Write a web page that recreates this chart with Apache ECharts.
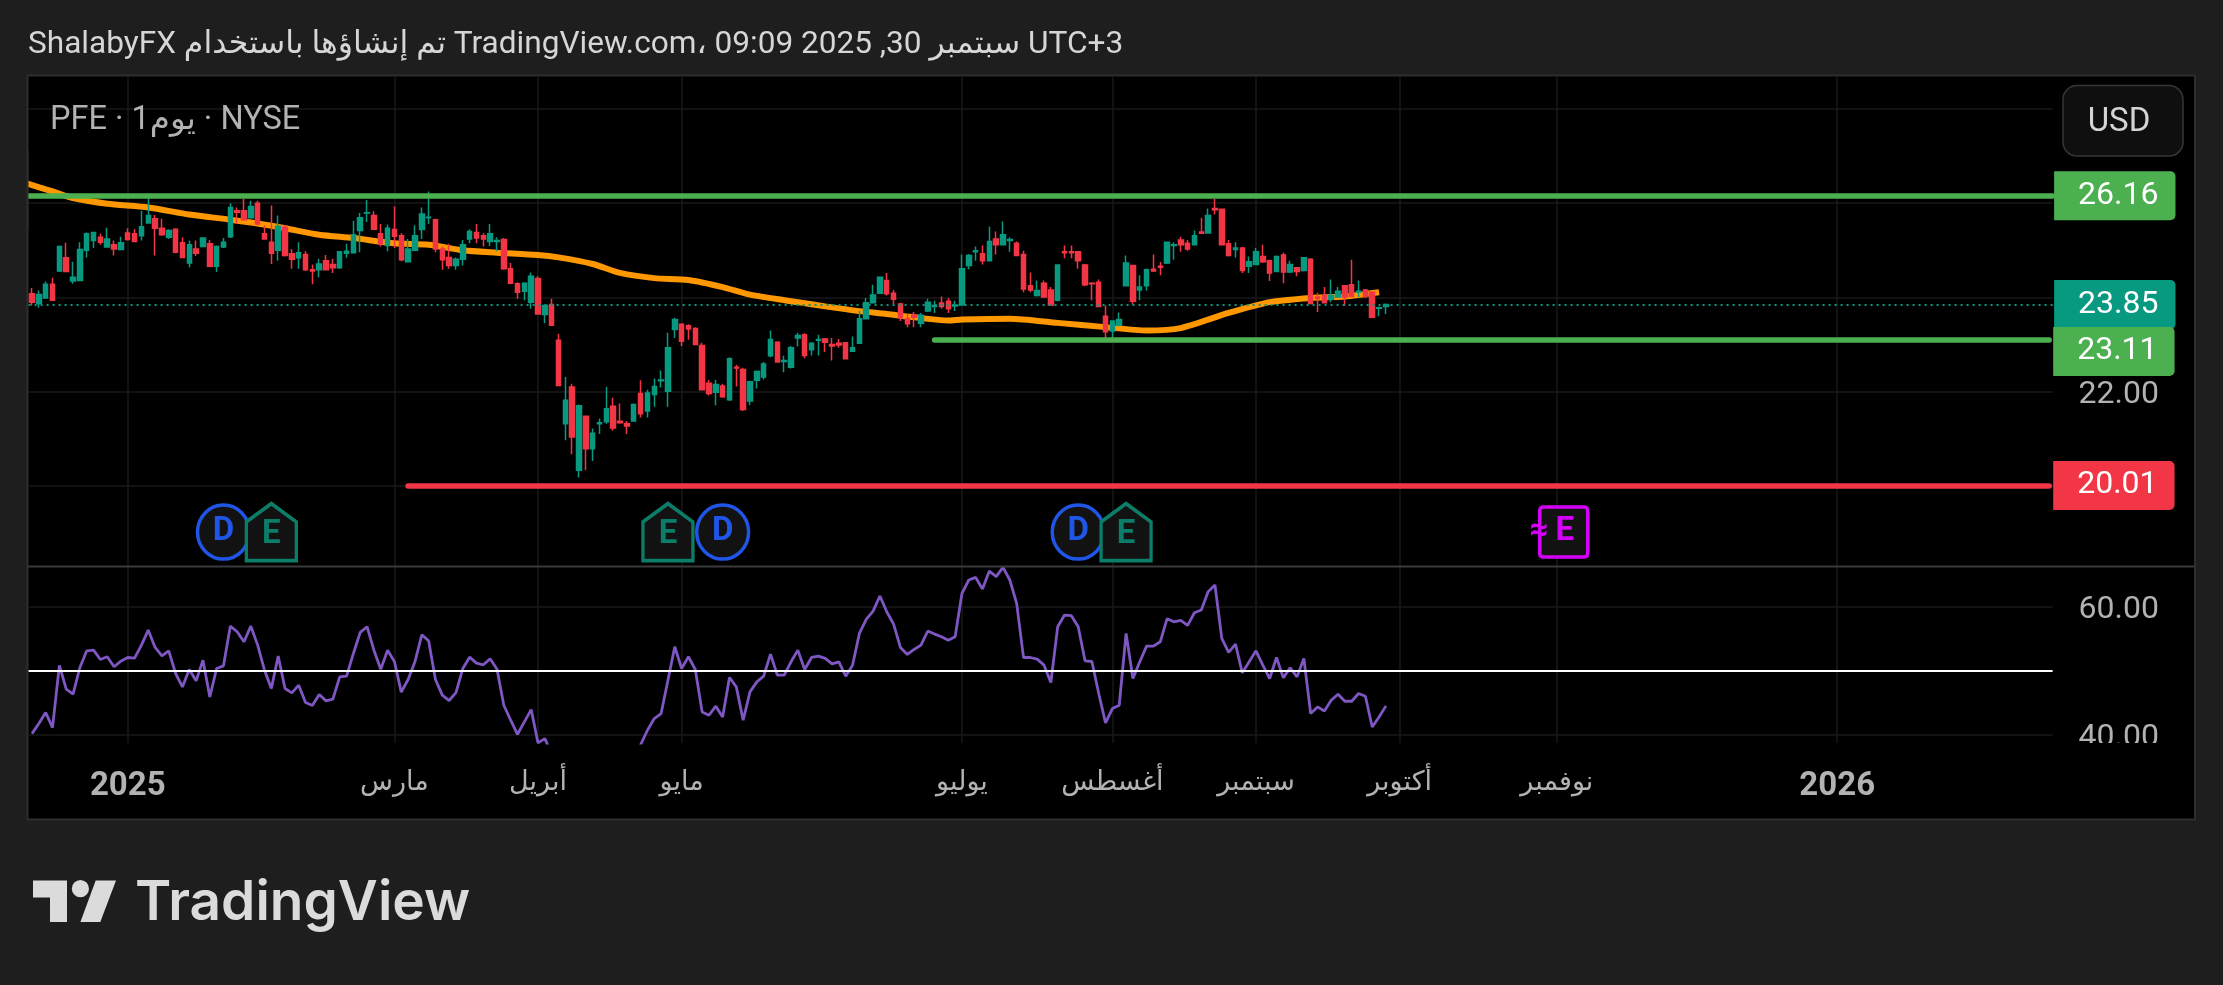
<!DOCTYPE html>
<html>
<head>
<meta charset="utf-8">
<title>PFE</title>
<style>
  html,body{margin:0;padding:0;background:#1e1e1e;}
  #main{width:2223px;height:985px;}
</style>
</head>
<body>
<div id="main"></div>
<script src="https://cdn.jsdelivr.net/npm/echarts@6/dist/echarts.min.js"></script>
<script>
// open, close, low, high of each daily bar
var ohlc = [
[24.08,23.90,23.83,24.20],[23.87,24.06,23.78,24.15],[23.99,24.28,23.97,24.34],[24.28,23.94,23.94,24.42],
[24.56,25.08,24.54,25.10],[24.84,24.55,24.54,25.16],[24.35,24.43,24.29,24.76],[24.36,25.02,24.36,25.17],
[25.00,25.35,24.85,25.38],[25.21,25.38,25.05,25.39],[25.28,25.17,25.12,25.35],[25.07,25.24,25.07,25.48],
[25.12,25.03,24.89,25.21],[25.02,25.16,25.02,25.29],[25.37,25.23,25.21,25.47],[25.35,25.19,25.17,25.45],
[25.31,25.50,25.21,25.84],[25.58,25.74,25.58,26.16],[25.67,25.47,24.89,25.75],[25.47,25.33,25.31,25.67],
[25.28,25.42,25.24,25.45],[25.45,24.96,24.94,25.47],[25.16,24.85,24.85,25.28],[24.73,25.12,24.64,25.21],
[25.03,24.94,24.88,25.21],[25.08,25.26,25.07,25.28],[25.14,24.66,24.64,25.22],[24.66,25.08,24.54,25.10],
[25.07,25.17,25.05,25.26],[25.29,25.91,25.26,26.00],[25.84,25.81,25.56,25.91],[25.84,25.65,25.63,26.09],
[25.69,25.93,25.67,26.05],[26.00,25.56,25.53,26.05],[25.35,25.24,25.23,25.53],[25.17,24.94,24.71,25.95],
[25.00,25.51,24.78,25.74],[25.49,24.89,24.87,25.53],[24.93,24.81,24.61,25.03],[24.84,24.95,24.61,25.17],
[24.91,24.59,24.56,24.98],[24.59,24.56,24.28,24.70],[24.59,24.71,24.43,24.82],[24.78,24.59,24.57,24.90],
[24.70,24.63,24.52,24.82],[24.63,24.97,24.61,24.98],[24.94,24.98,24.84,25.14],[24.95,25.33,24.94,25.63],
[25.42,25.69,24.96,25.79],[25.79,25.80,25.60,26.07],[25.74,25.45,25.43,25.83],[25.35,25.14,25.08,25.56],
[25.10,25.47,24.98,25.55],[25.44,25.30,25.05,25.93],[25.31,24.80,24.77,25.36],[24.76,25.03,24.75,25.24],
[25.00,25.31,24.98,25.53],[25.44,25.77,25.24,25.91],[25.69,25.70,25.56,26.25],[25.65,25.03,24.96,25.67],
[25.03,24.80,24.59,25.08],[24.85,24.68,24.61,25.14],[24.68,24.81,24.59,24.85],[24.81,25.12,24.68,25.22],
[25.24,25.40,25.15,25.45],[25.38,25.26,25.15,25.56],[25.31,25.24,25.08,25.36],[25.19,25.35,25.09,25.56],
[25.19,25.21,24.98,25.28],[25.23,24.61,24.59,25.26],[24.61,24.30,24.28,24.73],[24.29,24.11,23.97,24.32],
[24.13,24.30,23.94,24.32],[23.90,24.45,23.76,24.53],[24.40,23.65,23.64,24.45],[23.64,23.83,23.45,23.85],
[23.85,23.41,23.41,23.97],[23.09,22.13,22.13,23.23],[21.32,21.82,20.97,22.31],[22.10,21.04,20.67,22.17],
[20.33,21.70,20.18,21.73],[21.48,20.79,20.33,21.48],[20.79,21.12,20.53,21.22],[21.32,21.34,21.10,21.43],
[21.36,21.64,21.32,22.10],[21.69,21.23,21.17,21.87],[21.37,21.34,21.32,21.75],[21.32,21.27,21.10,21.38],
[21.38,21.73,21.36,21.75],[21.96,21.53,21.45,22.24],[21.59,21.97,21.45,22.04],[21.94,22.11,21.68,22.28],
[22.23,22.25,22.09,22.45],[22.01,22.93,21.68,23.25],[23.32,23.53,23.14,23.57],[23.43,23.07,22.97,23.45],
[23.40,23.33,23.10,23.43],[23.34,23.00,23.00,23.37],[22.98,22.04,22.03,23.04],[22.18,21.96,21.92,22.25],
[21.99,22.15,21.71,22.25],[22.12,21.89,21.87,22.17],[21.83,22.70,21.80,22.73],[22.52,22.50,22.11,22.57],
[22.47,21.62,21.59,22.51],[21.80,22.21,21.71,22.23],[22.24,22.43,22.07,22.45],[22.31,22.59,22.26,22.63],
[22.76,23.11,22.73,23.30],[23.05,22.63,22.63,23.07],[22.64,22.66,22.41,22.76],[22.52,22.93,22.49,22.97],
[23.14,23.19,22.96,23.25],[23.21,22.77,22.71,23.24],[22.89,23.03,22.77,23.05],[23.09,23.11,22.77,23.21],
[23.12,23.05,22.84,23.14],[23.00,22.97,22.66,23.14],[23.03,22.99,22.93,23.12],[23.04,22.70,22.69,23.05],
[22.86,22.93,22.86,23.17],[23.03,23.55,23.02,23.72],[23.55,23.89,23.53,23.99],[23.89,24.05,23.88,24.27],
[24.09,24.43,24.08,24.44],[24.36,24.08,24.04,24.52],[24.09,23.96,23.86,24.16],[23.86,23.57,23.50,23.89],
[23.55,23.44,23.37,23.65],[23.62,23.58,23.37,23.69],[23.45,23.62,23.37,23.67],[23.71,23.90,23.69,23.97],
[23.81,23.83,23.67,23.93],[23.88,23.81,23.76,24.02],[23.92,23.76,23.67,23.99],[23.82,23.84,23.71,23.93],
[23.84,24.61,23.83,24.91],[24.68,24.89,24.60,24.92],[24.97,24.99,24.78,25.08],[24.93,24.78,24.70,25.10],
[24.78,25.19,24.78,25.50],[25.24,25.12,24.91,25.40],[25.12,25.33,25.10,25.61],[25.21,25.23,24.97,25.28],
[25.15,24.89,24.89,25.19],[24.91,24.18,24.11,24.99],[24.25,24.16,24.11,24.53],[24.04,24.15,24.02,24.36],
[24.30,24.01,23.99,24.36],[24.16,23.84,23.83,24.22],[23.94,24.69,23.92,24.70],[24.97,24.95,24.83,25.10],
[24.97,24.95,24.83,25.10],[24.97,24.78,24.61,24.97],[24.69,24.27,24.24,24.71],[24.30,24.29,23.94,24.32],
[24.32,23.81,23.80,24.38],[23.60,23.27,23.14,23.83],[23.29,23.50,23.12,23.51],[23.41,23.53,23.39,23.68],
[24.25,24.73,24.24,24.89],[24.68,23.92,23.85,24.69],[24.16,24.22,23.94,24.47],[24.25,24.59,24.15,24.61],
[24.60,24.56,24.54,24.91],[24.66,24.64,24.47,24.75],[24.73,25.17,24.71,25.19],[25.10,25.12,24.80,25.17],
[25.22,25.12,24.97,25.29],[25.15,25.03,24.99,25.22],[25.12,25.31,25.11,25.42],[25.39,25.36,25.35,25.69],
[25.37,25.74,25.36,25.89],[25.89,25.86,25.76,26.09],[25.87,25.12,25.11,25.89],[25.14,24.89,24.87,25.22],
[25.02,25.05,24.85,25.17],[25.05,24.57,24.52,25.07],[24.66,24.76,24.52,24.87],[24.70,24.97,24.70,25.05],
[24.87,24.76,24.73,25.12],[24.78,24.52,24.35,24.80],[24.55,24.87,24.54,24.89],[24.90,24.54,24.30,24.95],
[24.54,24.70,24.52,24.78],[24.63,24.55,24.45,24.64],[24.57,24.84,24.55,24.85],[24.81,23.87,23.85,24.83],
[24.01,23.98,23.69,24.10],[24.04,23.89,23.87,24.22],[23.96,24.04,23.90,24.38],[24.01,24.13,23.99,24.22],
[24.25,24.01,23.82,24.25],[24.27,24.02,24.01,24.80],[24.11,24.13,24.01,24.36],[24.16,24.02,23.99,24.18],
[24.11,23.58,23.58,24.13],[23.77,23.78,23.60,23.81],[23.81,23.85,23.65,23.87]
];

// slow moving average: bar index, price, read at the line's bends
var maIndex = [-1,3,6,11,17,23,29,33,37,42,47,53,58,63,68,74,77,82,86,91,96,101,105,112,116,121,125,129,134,136,143,150,157,163,168,175,181,187,192,197];
var maValues = [26.43,26.25,26.11,25.99,25.91,25.76,25.65,25.57,25.47,25.33,25.26,25.15,25.12,25.00,24.95,24.90,24.85,24.71,24.52,24.41,24.37,24.22,24.06,23.90,23.81,23.71,23.65,23.58,23.51,23.53,23.55,23.46,23.37,23.30,23.35,23.67,23.90,23.99,24.02,24.11];

// RSI, one value a bar (bars 76-88 run below the pane and are estimates)
var rsi = [
40.15,41.73,43.45,41.10,50.84,47.12,46.33,50.52,53.14,53.24,51.78,52.20,50.63,51.52,52.09,51.99,54.03,56.39,53.66,52.35,
53.14,49.58,47.48,50.21,48.43,51.67,45.91,50.36,50.78,57.01,56.12,54.55,57.01,54.03,50.10,47.22,52.30,47.22,46.54,47.75,
45.02,44.55,46.28,45.29,45.55,49.05,49.16,52.72,56.02,56.91,53.24,50.26,53.24,51.46,46.65,48.64,51.41,55.65,54.71,48.64,
46.18,45.34,46.59,50.36,52.14,51.20,50.94,51.88,50.26,44.60,42.25,40.05,41.99,43.92,38.69,39.37,37.00,30.50,30.00,28.50,
27.00,26.50,28.00,29.00,30.00,30.00,31.00,31.00,34.00,38.40,40.68,42.51,43.30,48.53,53.77,50.36,52.20,50.21,43.56,43.03,
44.45,42.77,48.95,47.48,42.25,46.70,48.27,49.16,52.62,49.32,49.32,51.41,53.24,50.21,52.09,52.30,51.94,51.10,51.41,49.16,
50.89,55.86,58.06,59.37,61.73,59.26,57.33,53.66,52.56,53.35,54.03,56.23,55.76,55.34,54.81,55.34,62.14,64.24,64.66,62.82,
65.65,64.76,66.23,64.24,60.57,52.09,52.09,51.83,50.89,48.17,56.91,58.74,58.64,56.91,51.57,51.46,46.44,41.83,44.08,44.60,
55.86,48.79,51.41,53.87,53.87,54.55,58.17,57.69,57.90,57.12,59.11,59.53,62.41,63.45,55.08,52.88,54.19,49.68,51.41,53.14,
50.89,48.79,52.09,48.90,50.47,49.05,51.94,43.30,44.34,43.71,45.39,46.33,45.23,45.23,46.44,46.02,41.20,42.77,44.50
];

var resistance = 26.16, support = 23.11, floorLevel = 20.01, lastPrice = 23.85;
var supportFrom = 132, floorFrom = 55;

// time axis
var tickDates = ['2025-01-02','2025-03-03','2025-04-01','2025-05-01','2025-07-01','2025-08-01','2025-09-02','2025-10-01','2025-11-03','2026-01-02'];
var tickLabels = ['2025','مارس','أبريل','مايو','يوليو','أغسطس','سبتمبر','أكتوبر','نوفمبر','2026'];
var holidays = ['2024-12-25','2025-01-01','2025-01-09','2025-01-20','2025-02-17','2025-04-18','2025-05-26','2025-06-19','2025-07-04','2025-09-01','2025-11-27','2025-12-25','2026-01-01'];
var firstDay = '2024-12-11', slots = 296;

// price axis levels
var priceTicks = [20,22,24,26,28];
var priceLabels = [22];
var rsiTicks = [40,60];
var rsiMiddle = 50;

// chart events, as bar indexes
var eventPrice = 19.02;
var dividendBars = [28,101,153];
var earningsBars = [35,93,160];
var nextEarningsBars = [224];

var dates = [];
(function(){
  var d = new Date(firstDay + 'T00:00:00Z');
  while (dates.length < slots) {
    var s = d.toISOString().slice(0,10), w = d.getUTCDay();
    if (w != 0 && w != 6 && holidays.indexOf(s) < 0) dates.push(s);
    d.setUTCDate(d.getUTCDate() + 1);
  }
})();

function isTick(i, val){ return tickDates.indexOf(val) >= 0; }
function pairs(xs, y){ return xs.map(function(x){ return [x, y]; }); }
function pick(xs, ys){ return xs.map(function(x, i){ return [x, ys[i]]; }); }

var FONT = 'Roboto, "DejaVu Sans", sans-serif';
var GREEN = '#089981', RED = '#f23645', LEVEL = '#4caf50', GRID = '#191919', MUTED = '#b2b2b2';

function tag(price, bg, gap, dy){
  return {
    show:true, position:'end', distance:gap, offset:[0, dy || 0],
    formatter:price.toFixed(2),
    color:'#fff', backgroundColor:bg, fontFamily:FONT, fontSize:32, lineHeight:32,
    padding:[10,17,7,24], borderRadius:[0,5,5,0]
  };
}
function levelStyle(color){ return {color:color, width:5.5, type:'solid', cap:'round'}; }

var priceLabelStyle = {margin:26, color:MUTED, fontSize:32, fontFamily:FONT, verticalAlign:'top', lineHeight:6,
  formatter:function(v){ return v.toFixed(2); }};

var chart = echarts.init(document.getElementById('main'));
chart.setOption({
  animation:false,
  backgroundColor:'#1e1e1e',
  textStyle:{fontFamily:FONT},
  grid:[
    {left:28.6, width:2024, top:76, height:490},
    {left:28.6, width:2024, top:567, height:176}
  ],
  xAxis:[
    {type:'category', gridIndex:0, data:dates, boundaryGap:true,
     axisLine:{show:false}, axisTick:{show:false}, axisLabel:{show:false},
     splitLine:{show:true, alignWithLabel:true, interval:isTick, lineStyle:{color:GRID, width:1.5}}},
    {type:'category', gridIndex:1, data:dates, boundaryGap:true,
     axisLine:{show:false}, axisTick:{show:false},
     splitLine:{show:true, alignWithLabel:true, interval:isTick, lineStyle:{color:GRID, width:1.5}},
     axisLabel:{show:true, interval:isTick, margin:27, color:MUTED, fontSize:27, fontFamily:FONT, hideOverlap:false,
       formatter:function(val){
         var t = tickLabels[tickDates.indexOf(val)];
         return /^\d+$/.test(t) ? '{y|' + t + '}' : t;
       },
       rich:{y:{fontWeight:'bold', fontSize:33, color:MUTED, fontFamily:FONT}}}}
  ],
  yAxis:[
    {type:'value', gridIndex:0, position:'right', min:18.3, max:28.7, scale:true,
     axisLine:{show:false},
     axisTick:{show:false, customValues:priceTicks},
     splitLine:{show:true, lineStyle:{color:GRID, width:1.5}},
     axisLabel:Object.assign({customValues:priceLabels}, priceLabelStyle)},
    {type:'value', gridIndex:1, position:'right', min:38.68, max:66.28, scale:true,
     axisLine:{show:false},
     axisTick:{show:false, customValues:rsiTicks},
     splitLine:{show:true, lineStyle:{color:GRID, width:1.5}},
     axisLabel:Object.assign({customValues:rsiTicks}, priceLabelStyle)}
  ],
  series:[
    {name:'MA', type:'line', xAxisIndex:0, yAxisIndex:0, z:2, data:pick(maIndex, maValues),
     showSymbol:false, smooth:0.25, lineStyle:{color:'#ff9800', width:6}, silent:true},
    {name:'PFE', type:'candlestick', xAxisIndex:0, yAxisIndex:0, z:3, data:ohlc, barWidth:5,
     itemStyle:{color:GREEN, color0:RED, borderColor:GREEN, borderColor0:RED, borderWidth:1.5},
     markLine:{silent:true, symbol:'none', animation:false, data:[
       {yAxis:lastPrice, lineStyle:{color:GREEN, type:[2,4], width:2}, label:tag(lastPrice, GREEN, 1.5)},
       {yAxis:resistance, lineStyle:levelStyle(LEVEL), label:tag(resistance, LEVEL, 1.5)},
       [{coord:[supportFrom, support], lineStyle:levelStyle(LEVEL), label:tag(support, LEVEL, 4, 12)}, {coord:[slots-1, support]}],
       [{coord:[floorFrom, floorLevel], lineStyle:levelStyle(RED), label:tag(floorLevel, RED, 4)}, {coord:[slots-1, floorLevel]}]
     ]}},
    {name:'Dividends', type:'scatter', xAxisIndex:0, yAxisIndex:0, z:4, data:pairs(dividendBars, eventPrice),
     symbol:'circle', symbolSize:[52,54],
     itemStyle:{color:'#121212', borderColor:'#2056e8', borderWidth:3.5, opacity:1},
     label:{show:true, position:'inside', formatter:'D', color:'#2056e8', fontSize:33, fontWeight:'bold', fontFamily:FONT}},
    {name:'Earnings', type:'scatter', xAxisIndex:0, yAxisIndex:0, z:5, data:pairs(earningsBars, eventPrice),
     symbol:'path://M0 9 L12 0 L24 9 L24 28 L0 28 Z', symbolSize:[50,57], symbolKeepAspect:false,
     itemStyle:{color:'#121212', borderColor:'#0b7d69', borderWidth:3.5, opacity:1},
     label:{show:true, position:'inside', formatter:'E', color:'#0b7d69', fontSize:33, fontWeight:'bold', fontFamily:FONT, offset:[0,3]}},
    {name:'Next earnings', type:'scatter', xAxisIndex:0, yAxisIndex:0, z:5, data:pairs(nextEarningsBars, eventPrice),
     symbol:'path://M2 0 H22 Q24 0 24 2 V22 Q24 24 22 24 H2 Q0 24 0 22 V2 Q0 0 2 0 Z', symbolSize:[48,50], symbolKeepAspect:false,
     itemStyle:{color:'#121212', borderColor:'#d500f9', borderWidth:3.5, opacity:1},
     label:{show:true, position:'inside', formatter:'{a|≈}{e|E}', offset:[-12,0],
       rich:{a:{color:'#d500f9', fontSize:33, fontWeight:'bold', fontFamily:FONT, padding:[0,7,0,0]},
             e:{color:'#d500f9', fontSize:33, fontWeight:'bold', fontFamily:FONT}}}},
    {name:'RSI', type:'line', xAxisIndex:1, yAxisIndex:1, z:3, data:rsi, showSymbol:false,
     lineStyle:{color:'#7e57c2', width:2.8}, silent:true,
     markLine:{silent:true, symbol:'none', animation:false, label:{show:false},
       data:[{yAxis:rsiMiddle, lineStyle:{color:'#ffffff', width:2, type:'solid'}}]}}
  ],
  graphic:[
    // panel
    {type:'rect', z:-100, silent:true, shape:{x:27.5, y:75.5, width:2167.5, height:744}, style:{fill:'#000', stroke:'#2e2e2e', lineWidth:2}},
    // keeps the moving average inside the panel on its left edge
    {type:'rect', z:60, silent:true, shape:{x:20, y:150, width:7, height:80}, style:{fill:'#1e1e1e'}},
    {type:'rect', z:60, silent:true, shape:{x:26.5, y:150, width:2, height:80}, style:{fill:'#2e2e2e'}},
    // pane divider
    {type:'rect', z:60, silent:true, shape:{x:28, y:565.5, width:2166, height:2}, style:{fill:'#3a3a3a'}},
    // the scale cuts off the lowest rsi label
    {type:'rect', z:60, silent:true, shape:{x:2054, y:743, width:140, height:24}, style:{fill:'#000'}},
    {type:'text', z:60, silent:true, x:28, y:45.5, style:{text:'ShalabyFX تم إنشاؤها باستخدام TradingView.com، 09:09 2025 ,30 سبتمبر UTC+3',
      fill:'#d6d6d6', font:'31.6px ' + FONT, textVerticalAlign:'middle'}},
    {type:'text', z:60, silent:true, x:50, y:120.5, style:{text:'PFE · 1يوم · NYSE', fill:MUTED, font:'32.5px ' + FONT, textVerticalAlign:'middle'}},
    {type:'rect', z:60, silent:true, shape:{x:2063, y:85.5, width:120, height:70.5, r:14}, style:{fill:'#0f0f0f', stroke:'#363636', lineWidth:1.5}},
    {type:'text', z:61, silent:true, x:2119, y:123, style:{text:'USD', fill:'#d4d4d4', font:'33px ' + FONT, textAlign:'center', textVerticalAlign:'middle'}},
    // logo
    {type:'polygon', z:60, silent:true, shape:{points:[[33,880.5],[67,880.5],[67,922],[50,922],[50,897.5],[33,897.5]]}, style:{fill:'#dbdbdb'}},
    {type:'circle', z:60, silent:true, shape:{cx:80.4, cy:888.7, r:8.6}, style:{fill:'#dbdbdb'}},
    {type:'polygon', z:60, silent:true, shape:{points:[[95.7,880.5],[116,880.5],[100.3,922],[80.4,922]]}, style:{fill:'#dbdbdb'}},
    {type:'text', z:60, silent:true, x:135, y:903.5, style:{text:'TradingView', fill:'#dbdbdb', font:'600 55px Inter, ' + FONT, textVerticalAlign:'middle'}}
  ]
});
</script>
</body>
</html>
